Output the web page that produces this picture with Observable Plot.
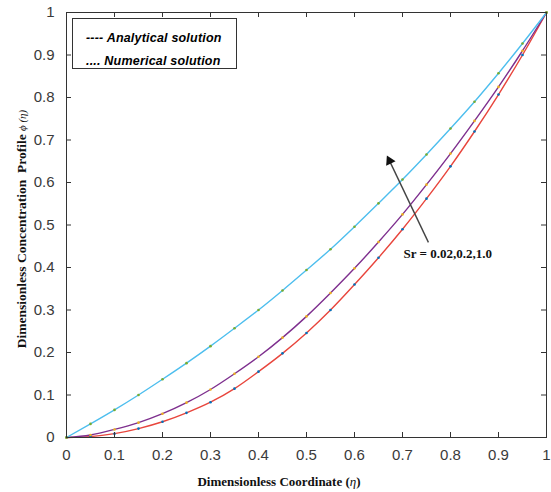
<!DOCTYPE html>
<html><head><meta charset="utf-8">
<script src="https://cdn.jsdelivr.net/npm/d3@7"></script>
<script src="https://cdn.jsdelivr.net/npm/@observablehq/plot@0.6"></script>
<style>
body{margin:0;background:#fff;}
#wrap{position:relative;width:551px;height:492px;}
#legend{position:absolute;left:72px;top:18px;width:165px;height:51px;border:1px solid #333;background:#fff;box-sizing:border-box;font:bold italic 12.5px "Liberation Sans",Arial,sans-serif;color:#000;padding:8px 0 0 13px;line-height:23px;letter-spacing:0.2px;}
</style></head>
<body><div id="wrap"><div id="legend"><div>---- Analytical solution</div><div>.... Numerical solution</div></div></div>
<script>
// Dimensionless coordinate (eta)
const eta = [0,0.05,0.1,0.15,0.2,0.25,0.3,0.35,0.4,0.45,0.5,0.55,0.6,0.65,0.7,0.75,0.8,0.85,0.9,0.95,1];
// Concentration profile phi(eta) for each Sr
const phiSr002 = [0,0.002,0.009,0.021,0.037,0.058,0.083,0.115,0.155,0.198,0.246,0.3,0.36,0.423,0.49,0.562,0.638,0.72,0.807,0.9,1];
const phiSr02  = [0,0.006,0.019,0.035,0.056,0.082,0.113,0.15,0.19,0.235,0.285,0.34,0.398,0.46,0.525,0.595,0.668,0.745,0.825,0.91,1];
const phiSr1   = [0,0.032,0.065,0.1,0.137,0.175,0.215,0.257,0.3,0.346,0.394,0.443,0.496,0.551,0.607,0.666,0.727,0.79,0.857,0.927,1];
const seriesNames = ["Sr = 0.02","Sr = 0.2","Sr = 1.0"];
const lineColors = ["#e8453c","#7e2f8e","#4dbeee"];
const dotColors = ["#0072bd","#edb120","#77ac30"];
const xTicks = [0,0.1,0.2,0.3,0.4,0.5,0.6,0.7,0.8,0.9,1];
const yTicks = [0,0.1,0.2,0.3,0.4,0.5,0.6,0.7,0.8,0.9,1];
const tickLabels = ["0","0.1","0.2","0.3","0.4","0.5","0.6","0.7","0.8","0.9","1"];
// annotation (data coordinates)
const annotText = "Sr = 0.02,0.2,1.0";
const annotTextPos = [0.702, 0.433];
const arrowFrom = [0.754, 0.459];
const arrowTo = [0.673, 0.651];
const arrowAngle = -26;

const allSeries = [phiSr002, phiSr02, phiSr1];
const rows = allSeries.flatMap((s, i) => s.map((v, j) => ({eta: eta[j], phi: v, series: seriesNames[i]})));

const W = 551, H = 492, mt = 12, mr = 5, mb = 55, ml = 66;
const pw = W - ml - mr, ph = H - mt - mb, tl = 5;
const tickFont = "'Liberation Sans Narrow','Liberation Sans',Arial,sans-serif";

const chart = Plot.plot({
  width: W, height: H,
  marginTop: mt, marginRight: mr, marginBottom: mb, marginLeft: ml,
  style: {background: "#fff", color: "#333"},
  x: {domain: [0, 1]},
  y: {domain: [0, 1]},
  color: {domain: seriesNames, range: lineColors},
  marks: [
    Plot.line(rows, {x: "eta", y: "phi", z: "series", stroke: "series", strokeWidth: 1.4, curve: "monotone-x"}),
    Plot.dot(rows, {x: "eta", y: "phi", fill: d => dotColors[seriesNames.indexOf(d.series)], r: 1.3}),
    Plot.tickX(xTicks, {x: d => d, insetTop: ph - tl, stroke: "#333"}),
    Plot.tickX(xTicks, {x: d => d, insetBottom: ph - tl, stroke: "#333"}),
    Plot.tickY(yTicks, {y: d => d, insetRight: pw - tl, stroke: "#333"}),
    Plot.tickY(yTicks, {y: d => d, insetLeft: pw - tl, stroke: "#333"}),
    Plot.axisX(xTicks, {tickSize: 0, tickPadding: 12, tickFormat: (d, i) => tickLabels[i], fontSize: 15, fontFamily: tickFont, fill: "#3a3a3a", label: null}),
    Plot.axisY(yTicks, {tickSize: 0, tickPadding: 12, tickFormat: (d, i) => tickLabels[i], fontSize: 15, fontFamily: tickFont, fill: "#3a3a3a", label: null}),
    Plot.frame({stroke: "#333", strokeWidth: 1}),
    Plot.link([0], {x1: () => arrowFrom[0], y1: () => arrowFrom[1], x2: () => arrowTo[0], y2: () => arrowTo[1], stroke: "#444", strokeWidth: 1.4}),
    Plot.dot([0], {x: () => arrowTo[0], y: () => arrowTo[1], symbol: "triangle2", r: 5, rotate: arrowAngle, fill: "#111"}),
    Plot.text([annotText], {x: () => annotTextPos[0], y: () => annotTextPos[1], text: d => d, textAnchor: "start", fontFamily: "'Liberation Serif','Times New Roman',serif", fontWeight: "bold", fontSize: 13, fill: "#111"})
  ]
});

const svg = d3.select(chart);
const serif = "'Liberation Serif','Times New Roman',serif";
const xl = svg.append("text").attr("x", 279).attr("y", 486).attr("text-anchor", "middle")
  .attr("font-family", serif).attr("font-weight", "bold").attr("font-size", 13).attr("fill", "#111");
xl.append("tspan").text("Dimensionless Coordinate (");
xl.append("tspan").attr("font-style", "italic").attr("font-weight", "normal").text("η");
xl.append("tspan").text(")");
const yl = svg.append("text").attr("transform", "translate(26,229) rotate(-90)").attr("text-anchor", "middle")
  .attr("font-family", serif).attr("font-weight", "bold").attr("font-size", 13.5).attr("fill", "#111");
yl.append("tspan").text("Dimensionless Concentration  Profile ");
yl.append("tspan").attr("font-style", "italic").attr("font-weight", "normal").attr("font-size", 11).text("ϕ (η)");

document.getElementById("wrap").prepend(chart);
</script>
</body></html>
